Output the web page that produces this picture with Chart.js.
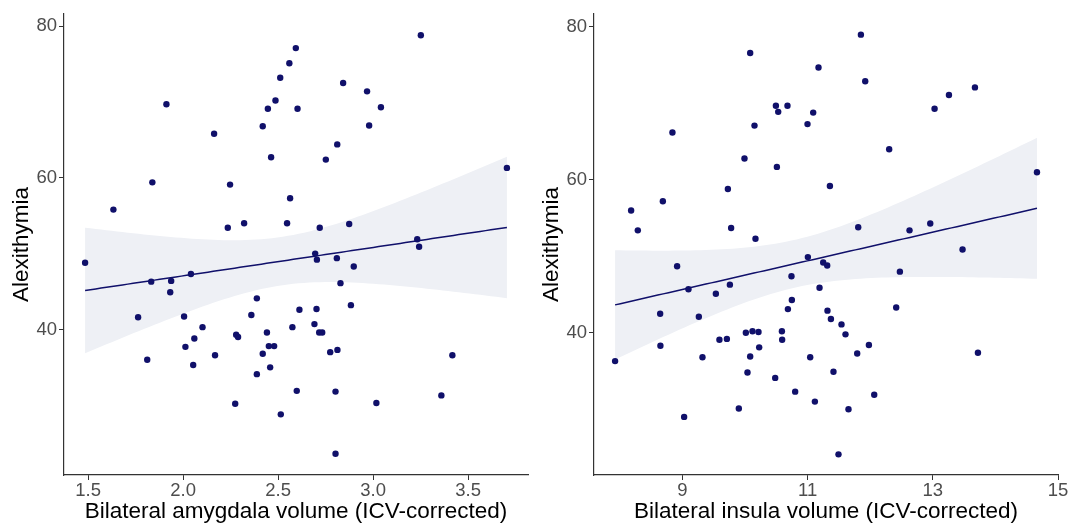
<!DOCTYPE html>
<html lang="en">
<head>
    <meta charset="UTF-8">
    <title>Alexithymia vs regional volume</title>
    <style>
        body {
            margin: 0;
            background: white;
            font-family: 'Liberation Sans', Arial, sans-serif;
        }

        .panel {
            position: absolute;
            top: 0;
        }
    </style>
    <script src="https://cdn.jsdelivr.net/npm/chart.js"></script>
</head>
<body>

    <canvas id="amygdalaChart" class="panel" width="536" height="524" style="left: 0px;"></canvas>
    <canvas id="insulaChart" class="panel" width="543" height="524" style="left: 530px;"></canvas>

    <script>
        // left panel: bilateral amygdala volume vs alexithymia
        const amygX = [1.484, 1.633, 1.763, 1.811, 1.832, 1.838, 1.912, 1.932, 1.937, 2.005,
                       2.012, 2.041, 2.053, 2.059, 2.102, 2.163, 2.168, 2.235, 2.247, 2.274,
                       2.279, 2.289, 2.321, 2.359, 2.388, 2.388, 2.419, 2.419, 2.441, 2.446,
                       2.451, 2.458, 2.463, 2.479, 2.486, 2.511, 2.514, 2.547, 2.559, 2.563,
                       2.575, 2.593, 2.598, 2.602, 2.612, 2.691, 2.695, 2.702, 2.704, 2.716,
                       2.719, 2.732, 2.751, 2.774, 2.802, 2.802, 2.809, 2.811, 2.812, 2.828,
                       2.842, 2.874, 2.883, 2.898, 2.968, 2.979, 3.017, 3.041, 3.232, 3.242,
                       3.251, 3.359, 3.417, 3.704];
        const amygY = [48.8, 55.8, 41.6, 36.0, 46.3, 59.4, 69.7, 44.9, 46.4, 41.7,
                       37.7, 47.3, 35.3, 38.8, 40.3, 65.8, 36.6, 53.4, 59.1, 30.2,
                       39.3, 39.0, 54.0, 41.9, 44.1, 34.1, 66.8, 36.8, 39.6, 69.1,
                       37.8, 35.0, 62.7, 37.8, 70.2, 73.2, 28.8, 54.0, 75.1, 57.3,
                       40.3, 77.1, 31.9, 69.1, 42.6, 40.7, 50.0, 42.7, 49.2, 39.6,
                       53.4, 39.6, 62.4, 37.0, 31.8, 23.6, 49.4, 64.4, 37.3, 46.1,
                       72.5, 53.9, 43.2, 48.3, 71.4, 66.9, 30.3, 69.3, 51.9, 50.9,
                       78.8, 31.3, 36.6, 61.3];
        const amygTicks = [1.5, 2.0, 2.5, 3.0, 3.5];
        const amygTickLabels = ['1.5', '2.0', '2.5', '3.0', '3.5'];

        // right panel: bilateral insula volume vs alexithymia
        const insulaX = [7.924, 8.180, 8.287, 8.644, 8.648, 8.687, 8.840, 8.915, 9.027, 9.096,
                         9.262, 9.320, 9.534, 9.591, 9.710, 9.726, 9.758, 9.778, 9.901, 9.991,
                         10.013, 10.039, 10.082, 10.082, 10.119, 10.151, 10.167, 10.215, 10.226, 10.482,
                         10.493, 10.509, 10.530, 10.589, 10.593, 10.678, 10.685, 10.742, 10.748, 10.801,
                         10.998, 11.004, 11.041, 11.089, 11.116, 11.174, 11.190, 11.249, 11.313, 11.317,
                         11.356, 11.372, 11.413, 11.493, 11.541, 11.605, 11.653, 11.792, 11.808, 11.851,
                         11.920, 11.979, 12.064, 12.303, 12.415, 12.474, 12.628, 12.959, 13.028, 13.258,
                         13.475, 13.673, 13.721, 14.664];
        const insulaY = [36.3, 56.0, 53.4, 42.5, 38.3, 57.2, 66.2, 48.7, 29.0, 45.7,
                         42.1, 36.8, 45.1, 39.1, 39.2, 58.8, 46.3, 53.7, 30.1, 62.8,
                         40.0, 34.8, 76.6, 36.9, 40.2, 67.1, 52.3, 40.1, 38.1, 34.1,
                         69.7, 61.7, 68.9, 40.2, 39.1, 69.7, 43.1, 47.4, 44.3, 32.3,
                         67.3, 49.9, 36.8, 68.8, 31.0, 74.7, 45.9, 49.2, 48.8, 42.9,
                         59.2, 41.8, 34.9, 24.1, 41.1, 39.8, 30.0, 37.3, 53.8, 79.0,
                         72.9, 38.4, 31.9, 64.0, 43.3, 48.0, 53.4, 54.3, 69.3, 71.1,
                         50.9, 72.1, 37.4, 61.0];
        const insulaTicks = [9, 11, 13, 15];
        const insulaTickLabels = ['9', '11', '13', '15'];

        const yTicks = [40, 60, 80];

        const NAVY = '#10106a';
        const BAND = '#eef0f5';
        const TICK_GREY = '#4d4d4d';
        const FONT = "'Liberation Sans', Arial, sans-serif";

        // ordinary least squares fit with 95% confidence band (like geom_smooth(method = "lm"))
        function linFit(xs, ys) {
            const n = xs.length;
            const mx = xs.reduce((s, v) => s + v, 0) / n;
            const my = ys.reduce((s, v) => s + v, 0) / n;
            let sxx = 0, sxy = 0;
            for (let i = 0; i < n; i++) {
                sxx += (xs[i] - mx) ** 2;
                sxy += (xs[i] - mx) * (ys[i] - my);
            }
            const b = sxy / sxx;
            const a = my - b * mx;
            let sse = 0;
            for (let i = 0; i < n; i++) sse += (ys[i] - a - b * xs[i]) ** 2;
            const s = Math.sqrt(sse / (n - 2));
            const t = 1.9935; // qt(0.975, 72)

            const lo = Math.min(...xs), hi = Math.max(...xs);
            const line = [], upper = [], lower = [];
            for (let i = 0; i < 80; i++) {
                const x = lo + (hi - lo) * i / 79;
                const yh = a + b * x;
                const se = s * Math.sqrt(1 / n + (x - mx) ** 2 / sxx);
                line.push({x: x, y: yh});
                upper.push({x: x, y: yh + t * se});
                lower.push({x: x, y: yh - t * se});
            }
            return {line, upper, lower};
        }

        function makePanel(canvasId, xs, ys, xTicks, xTickLabels, xTitle, xMin, xMax, yMin, yMax, padRight) {
            const fit = linFit(xs, ys);
            const ctx = document.getElementById(canvasId).getContext('2d');
            return new Chart(ctx, {
                type: 'scatter',
                data: {
                    datasets: [
                        {
                            data: xs.map((x, i) => ({x: x, y: ys[i]})),
                            backgroundColor: NAVY,
                            borderWidth: 0,
                            pointRadius: 3.2
                        },
                        {
                            type: 'line',
                            data: fit.line,
                            borderColor: NAVY,
                            borderWidth: 1.5,
                            pointRadius: 0,
                            fill: false
                        },
                        {
                            type: 'line',
                            data: fit.upper,
                            borderWidth: 0,
                            pointRadius: 0,
                            fill: false
                        },
                        {
                            type: 'line',
                            data: fit.lower,
                            borderWidth: 0,
                            pointRadius: 0,
                            backgroundColor: BAND,
                            fill: '-1'
                        }
                    ]
                },
                options: {
                    animation: false,
                    responsive: false,
                    layout: {
                        padding: {top: 14, right: padRight, left: 0, bottom: 0}
                    },
                    plugins: {
                        legend: {display: false},
                        tooltip: {enabled: false}
                    },
                    scales: {
                        x: {
                            type: 'linear',
                            min: xMin,
                            max: xMax,
                            afterFit: (scale) => { scale.height = 49; },
                            afterBuildTicks: (scale) => {
                                scale.ticks = xTicks.map(v => ({value: v}));
                            },
                            ticks: {
                                color: TICK_GREY,
                                font: {family: FONT, size: 18.5},
                                padding: 0,
                                maxRotation: 0,
                                callback: (value, index) => xTickLabels[index]
                            },
                            grid: {
                                drawOnChartArea: false,
                                drawTicks: true,
                                tickLength: 5,
                                color: '#333333'
                            },
                            border: {display: true, color: '#333333', width: 1.2},
                            title: {
                                display: true,
                                text: xTitle,
                                color: '#000000',
                                font: {family: FONT, size: 22.5},
                                padding: {top: 0, bottom: -1}
                            }
                        },
                        y: {
                            type: 'linear',
                            min: yMin,
                            max: yMax,
                            afterFit: (scale) => { scale.width = 64; },
                            afterBuildTicks: (scale) => {
                                scale.ticks = yTicks.map(v => ({value: v}));
                            },
                            ticks: {
                                color: TICK_GREY,
                                font: {family: FONT, size: 18.5},
                                padding: 2
                            },
                            grid: {
                                drawOnChartArea: false,
                                drawTicks: true,
                                tickLength: 5,
                                color: '#333333'
                            },
                            border: {display: true, color: '#333333', width: 1.2},
                            title: {
                                display: true,
                                text: 'Alexithymia',
                                color: '#000000',
                                font: {family: FONT, size: 22.5},
                                padding: {top: 8, bottom: 0}
                            }
                        }
                    }
                }
            });
        }

        makePanel('amygdalaChart', amygX, amygY, amygTicks, amygTickLabels,
                  'Bilateral amygdala volume (ICV-corrected)', 1.373, 3.815, 20.8, 81.6, 8);
        makePanel('insulaChart', insulaX, insulaY, insulaTicks, insulaTickLabels,
                  'Bilateral insula volume (ICV-corrected)', 7.587, 15.0, 21.4, 81.7, 15);
    </script>

</body>
</html>
